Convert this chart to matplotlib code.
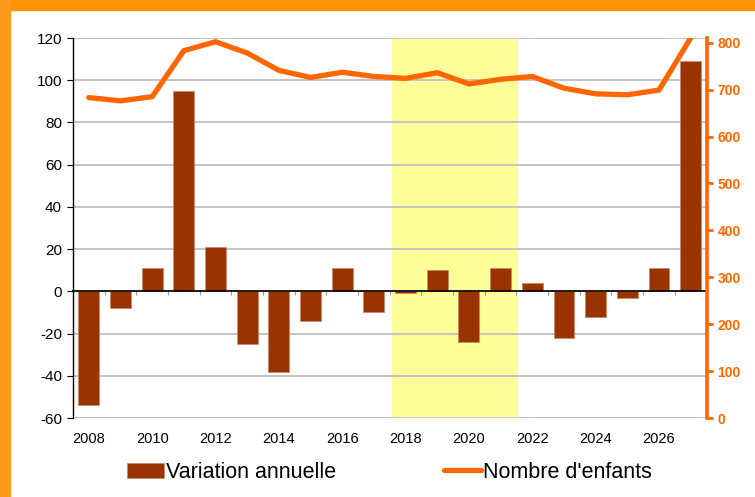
import numpy as np
import matplotlib.pyplot as plt
from matplotlib.patches import Rectangle

plt.rcParams['font.family'] = ['Liberation Sans', 'DejaVu Sans']
plt.rcParams['axes.unicode_minus'] = False

years = list(range(2008, 2028))
variation = [-54, -8, 11, 95, 21, -25, -38, -14, 11, -10,
             -1, 10, -24, 11, 4, -22, -12, -3, 11, 109]
enfants = [683, 676, 685, 783, 802, 778, 741, 726, 737, 728,
           724, 736, 712, 722, 728, 703, 691, 689, 699, 810]
highlight = (2017.57, 2021.55)

brown = '#993300'
orange = '#FF6600'

fig = plt.figure(figsize=(7.55, 4.97), dpi=100)
# orange frame on top and left
fig.patches.append(Rectangle((0, 1 - 10 / 497), 1, 10 / 497, transform=fig.transFigure,
                             color='#FF9205', zorder=0))
fig.patches.append(Rectangle((0, 0), 10 / 755, 1, transform=fig.transFigure,
                             color='#FF9A1A', zorder=0))

ax = fig.add_axes([73 / 755, 79 / 497, 633.5 / 755, 380 / 497])
x = np.arange(len(years))

ax.axvspan(highlight[0] - years[0], highlight[1] - years[0], color='#FFFF99', zorder=0, lw=0)
bars = ax.bar(x, variation, width=0.66, color=brown, edgecolor='#C98A6A', linewidth=0.6,
              zorder=2, label='Variation annuelle')

ax.set_xlim(-0.5, len(years) - 0.5)
ax.set_ylim(-60, 120)
ax.set_yticks(range(-60, 121, 20))
ax.yaxis.grid(True, color='#C4C4C4', lw=1.4, zorder=1)
ax.set_axisbelow(True)
ax.tick_params(axis='y', labelsize=11, length=4, color='black', pad=4)

for s in ['top', 'right']:
    ax.spines[s].set_visible(False)
ax.spines['left'].set_linewidth(1)
ax.spines['bottom'].set_position(('data', 0))
ax.spines['bottom'].set_linewidth(1.2)
ax.spines['bottom'].set_zorder(3)
ax.set_xticks(np.arange(len(years) + 1) - 0.5)
ax.set_xticklabels([])
ax.tick_params(axis='x', length=3, color='#999999', direction='out')

sec = ax.secondary_xaxis('bottom')
sec.set_xticks(x[::2])
sec.set_xticklabels([str(y) for y in years[::2]])
sec.tick_params(length=0, labelsize=10.5, pad=10)
sec.spines['bottom'].set_visible(False)

ax2 = ax.twinx()
line, = ax2.plot(x, enfants, color=orange, lw=3.8, solid_capstyle='round',
                 solid_joinstyle='round', label="Nombre d'enfants", zorder=4)
ax2.set_ylim(0, 810)
ax2.set_yticks(range(0, 801, 100))
for s in ['top', 'left', 'bottom']:
    ax2.spines[s].set_visible(False)
ax2.spines['right'].set_color(orange)
ax2.spines['right'].set_linewidth(2.6)
ax2.tick_params(axis='y', colors=orange, length=4, width=2, labelsize=10, pad=4)
for t in ax2.get_yticklabels():
    t.set_fontweight('bold')

fig.legend([bars, line], ['Variation annuelle', "Nombre d'enfants"],
           loc='center', bbox_to_anchor=(0.516, 0.05), ncol=2, frameon=False,
           fontsize=15.5, handlelength=1.7, handletextpad=0.12, columnspacing=5.0)

fig.savefig('out.png', dpi=100)
